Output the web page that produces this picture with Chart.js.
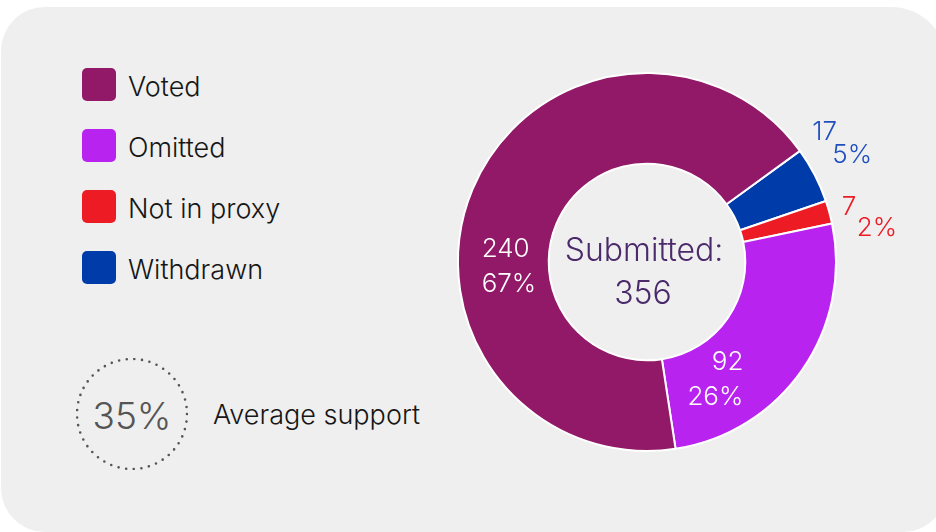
<!DOCTYPE html>
<html>
<head>
<meta charset="utf-8">
<script src="https://cdn.jsdelivr.net/npm/chart.js@4.4.1/dist/chart.umd.min.js"></script>
<style>
    html, body { margin: 0; padding: 0; background: #ffffff; }
    body { width: 936px; height: 532px; position: relative; overflow: hidden; font-family: Inter, 'Noto Sans', sans-serif; font-weight: 300; }
    .card { position: absolute; left: 1px; top: 7px; width: 946px; height: 525px; border-radius: 44px 56px 44px 44px; background: #efefef; }
    #donut { position: absolute; left: 0; top: 0; }
    .legend-item { position: absolute; left: 82px; height: 34px; display: flex; align-items: center; }
    .legend-item .swatch { width: 34px; height: 33px; border-radius: 5px; margin-right: 12px; }
    .legend-item .label { font-size: 27px; color: #161616; padding-top: 4px; }
    .avg { position: absolute; left: 76px; top: 358px; width: 112px; height: 112px; }
    .avg-value { position: absolute; left: 76px; top: 360px; width: 112px; height: 112px; line-height: 112px; text-align: center; font-size: 37px; color: #555555; }
    .avg-label { position: absolute; left: 213px; top: 398px; font-size: 27px; color: #161616; }
</style>
</head>
<body>
<div class="card"></div>
<div id="legend"></div>
<svg class="avg" viewBox="0 0 112 112"><circle cx="56" cy="56" r="55" fill="none" stroke="#555555" stroke-width="2.6" stroke-linecap="round" stroke-dasharray="0 7.68"></circle></svg>
<div class="avg-value" id="avgValue"></div>
<div class="avg-label">Average support</div>
<canvas id="donut" width="936" height="532"></canvas>
<script>
(function () {
    'use strict';

    const categories = ['Voted', 'Omitted', 'Not in proxy', 'Withdrawn'];
    const counts = [240, 92, 7, 17];
    const colors = ['#921868', '#b923ef', '#ed1c24', '#003ca9'];
    const labelColors = ['#ffffff', '#ffffff', '#ed1c24', '#1f4fbf'];
    const centerTitle = 'Submitted:';
    const averageSupport = 35;

    // slices run clockwise from Withdrawn, legend lists them the other way
    const drawOrder = [3, 2, 1, 0];

    // where each value label sits: fraction along the arc, fraction across the ring
    const labelStyle = [
        { frac: 0.40, rad: 0.74, align: 'left', gap: 35, indent: 0 },
        { frac: 0.67, rad: 0.59, align: 'right', gap: 35, indent: 0 },
        { frac: 0.83, rad: 1.12, align: 'left', gap: 21, indent: 15 },
        { frac: 0.02, rad: 1.16, align: 'left', gap: 23, indent: 20 },
    ];

    const total = counts.reduce(function (a, b) { return a + b; }, 0);

    let html = '';
    categories.forEach(function (name, i) {
        html += '<div class="legend-item" style="top:' + (67 + i * 61) + 'px"><div class="swatch" style="background:' + colors[i] + '"></div><div class="label">' + name + '</div></div>';
    });
    document.getElementById('legend').innerHTML = html;
    document.getElementById('avgValue').textContent = averageSupport + '%';

    const labelPlugin = {
        id: 'sliceLabels',
        afterDatasetsDraw: function (chart) {
            const ctx = chart.ctx;
            const meta = chart.getDatasetMeta(0);
            ctx.save();
            ctx.font = '300 26px Inter, "Noto Sans", sans-serif';
            ctx.textBaseline = 'middle';
            meta.data.forEach(function (arc, i) {
                const k = drawOrder[i];
                const p = arc.getProps(['x', 'y', 'startAngle', 'endAngle', 'innerRadius', 'outerRadius'], true);
                const st = labelStyle[k];
                const a = p.startAngle + st.frac * (p.endAngle - p.startAngle);
                const r = p.innerRadius + st.rad * (p.outerRadius - p.innerRadius);
                const ax = p.x + Math.cos(a) * r;
                const ay = p.y + Math.sin(a) * r;
                ctx.fillStyle = labelColors[k];
                ctx.textAlign = st.align;
                ctx.fillText(String(counts[k]), ax, ay - st.gap / 2);
                ctx.fillText(Math.round(counts[k] / total * 100) + '%', ax + st.indent, ay + st.gap / 2);
            });

            const c = meta.data[0];
            ctx.fillStyle = '#4b2a6b';
            ctx.textAlign = 'center';
            ctx.font = '300 32px Inter, "Noto Sans", sans-serif';
            ctx.fillText(centerTitle, c.x - 3, c.y - 11);
            ctx.fillText(String(total), c.x - 4, c.y + 32);
            ctx.restore();
        },
    };

    new Chart(document.getElementById('donut'), {
        type: 'doughnut',
        data: {
            labels: drawOrder.map(function (k) { return categories[k]; }),
            datasets: [{
                data: drawOrder.map(function (k) { return counts[k]; }),
                backgroundColor: drawOrder.map(function (k) { return colors[k]; }),
                borderColor: '#ffffff',
                borderWidth: 2,
            }],
        },
        options: {
            responsive: false,
            animation: false,
            rotation: 54,
            cutout: '52%',
            layout: { padding: { left: 457, right: 99, top: 72, bottom: 80 } },
            plugins: { legend: { display: false }, tooltip: { enabled: false } },
        },
        plugins: [labelPlugin],
    });
})();
</script>
</body>
</html>
